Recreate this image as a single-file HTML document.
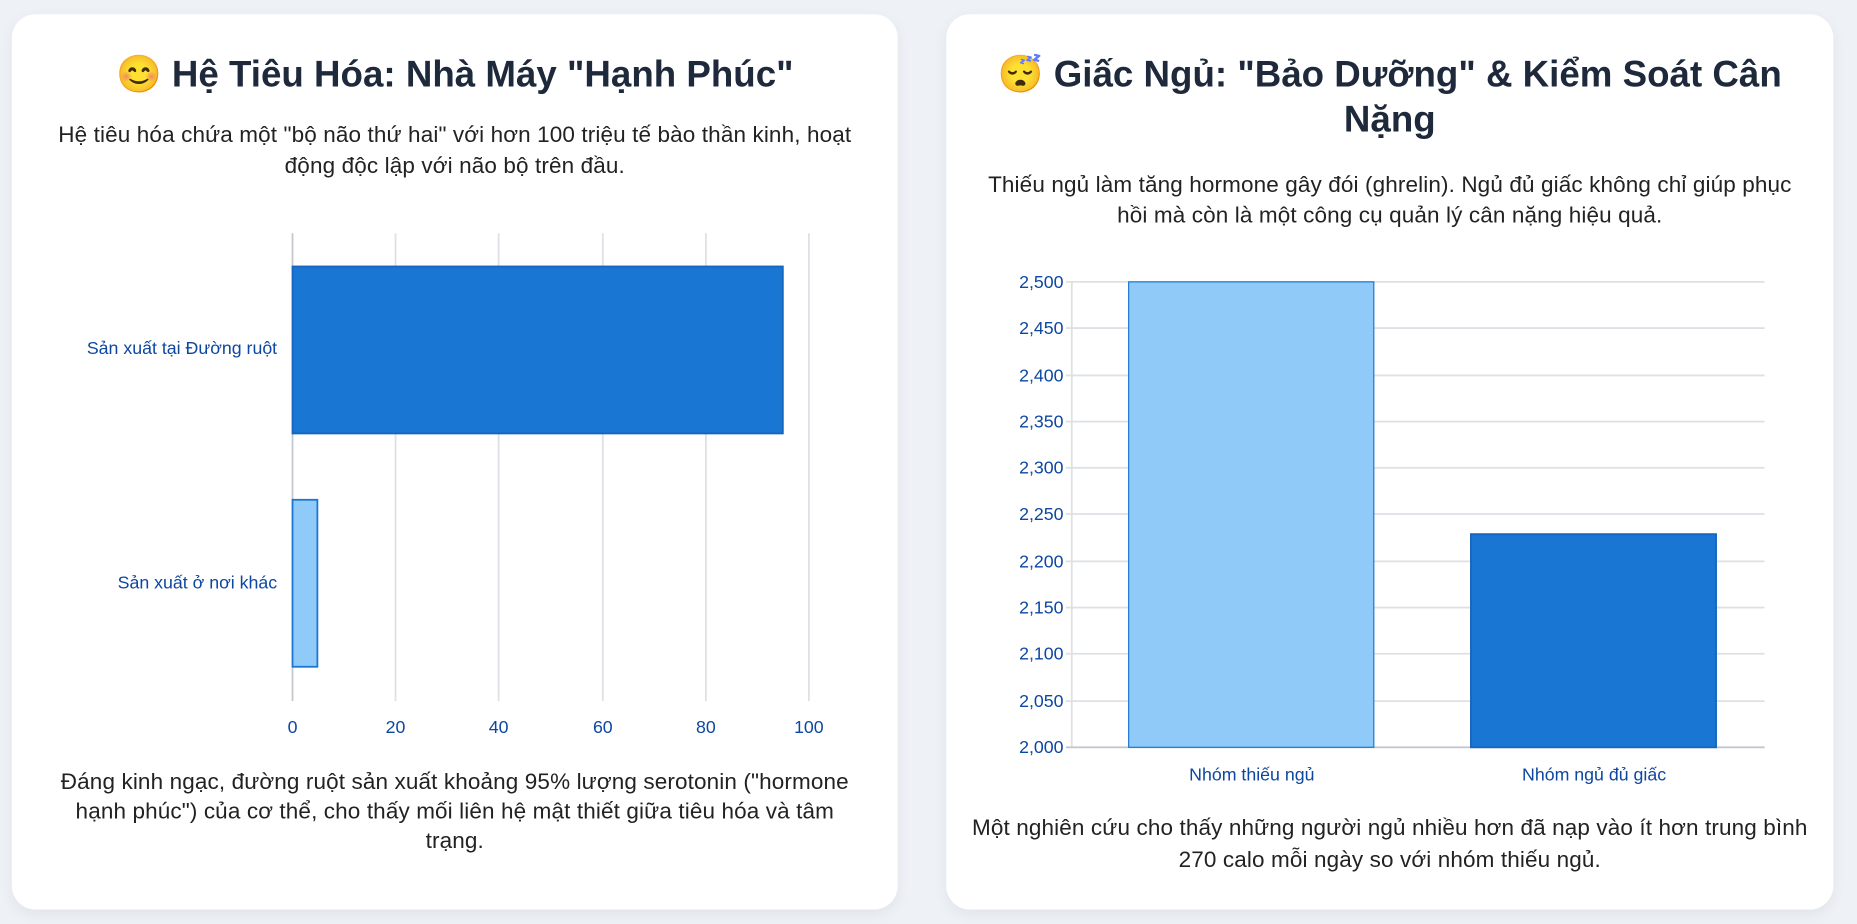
<!DOCTYPE html>
<html><head><meta charset="utf-8"><style>
html,body{margin:0;padding:0;width:1857px;height:924px;overflow:hidden;background:#eef2f7;}
#w{position:absolute;left:0;top:0;width:1568px;height:780px;transform:scale(1.18431);transform-origin:0 0;font-family:"Liberation Sans",sans-serif;}
.card{position:absolute;top:12px;height:756px;background:#fff;border-radius:20px;box-shadow:0 4px 12px rgba(0,0,0,0.06);}
.t{position:absolute;left:0;right:0;text-align:center;color:#1e293b;white-space:nowrap;}
h2{font-size:31px;font-weight:bold;margin:0;line-height:38px;}
.p{font-size:19px;letter-spacing:0.1px;line-height:26px;color:#222;}
svg text{font-family:"Liberation Sans",sans-serif;fill:#0d47a1;font-size:15px;}
</style></head><body><div id="w">
<div class="card" style="left:10px;width:748px"></div>
<div class="card" style="left:799px;width:749px"></div>

<div class="t" style="left:10px;width:748px;top:44px"><h2>😊 Hệ Tiêu Hóa: Nhà Máy "Hạnh Phúc"</h2></div>
<div class="t p" style="left:10px;width:748px;top:102px">Hệ tiêu hóa chứa một "bộ não thứ hai" với hơn 100 triệu tế bào thần kinh, hoạt<br>động độc lập với não bộ trên đầu.</div>
<div class="t p" style="left:10px;width:748px;top:648px;line-height:25px">Đáng kinh ngạc, đường ruột sản xuất khoảng 95% lượng serotonin ("hormone<br>hạnh phúc") của cơ thể, cho thấy mối liên hệ mật thiết giữa tiêu hóa và tâm<br>trạng.</div>

<div class="t" style="left:799px;width:749px;top:44px"><h2>😴 Giấc Ngủ: "Bảo Dưỡng" &amp; Kiểm Soát Cân<br>Nặng</h2></div>
<div class="t p" style="left:799px;width:749px;top:144px">Thiếu ngủ làm tăng hormone gây đói (ghrelin). Ngủ đủ giấc không chỉ giúp phục<br>hồi mà còn là một công cụ quản lý cân nặng hiệu quả.</div>
<div class="t p" style="left:799px;width:749px;top:686px;line-height:27px">Một nghiên cứu cho thấy những người ngủ nhiều hơn đã nạp vào ít hơn trung bình<br>270 calo mỗi ngày so với nhóm thiếu ngủ.</div>

<svg width="1568" height="780" style="position:absolute;left:0;top:0">
<g stroke="#dde1e6" stroke-width="1.5">
<line x1="334" y1="197" x2="334" y2="592"/><line x1="421" y1="197" x2="421" y2="592"/><line x1="509" y1="197" x2="509" y2="592"/><line x1="596" y1="197" x2="596" y2="592"/><line x1="683" y1="197" x2="683" y2="592"/>
</g>
<line x1="247" y1="197" x2="247" y2="592" stroke="#c4c8cc" stroke-width="1.5"/>
<rect x="247" y="225" width="414" height="141" fill="#1976d2" stroke="#1565c0" stroke-width="1.5"/>
<rect x="247" y="422" width="21" height="141" fill="#90caf9" stroke="#1976d2" stroke-width="1.5"/>
<text x="234" y="299" text-anchor="end">Sản xuất tại Đường ruột</text>
<text x="234" y="497" text-anchor="end">Sản xuất ở nơi khác</text>
<g text-anchor="middle"><text x="247" y="619">0</text><text x="334" y="619">20</text><text x="421" y="619">40</text><text x="509" y="619">60</text><text x="596" y="619">80</text><text x="683" y="619">100</text></g>

<g stroke="#dde1e6" stroke-width="1.5">
<line x1="900" y1="238" x2="1490" y2="238"/><line x1="900" y1="277" x2="1490" y2="277"/><line x1="900" y1="317" x2="1490" y2="317"/><line x1="900" y1="356" x2="1490" y2="356"/><line x1="900" y1="395" x2="1490" y2="395"/><line x1="900" y1="434" x2="1490" y2="434"/><line x1="900" y1="474" x2="1490" y2="474"/><line x1="900" y1="513" x2="1490" y2="513"/><line x1="900" y1="552" x2="1490" y2="552"/><line x1="900" y1="592" x2="1490" y2="592"/>
<line x1="905" y1="238" x2="905" y2="631"/>
</g>
<line x1="900" y1="631" x2="1490" y2="631" stroke="#c4c8cc" stroke-width="1.5"/>
<rect x="953" y="238" width="207" height="393" fill="#90caf9" stroke="#1976d2" stroke-width="1"/>
<rect x="1242" y="451" width="207" height="180" fill="#1976d2" stroke="#1565c0" stroke-width="1.5"/>
<g text-anchor="end">
<text x="898" y="243">2,500</text><text x="898" y="282">2,450</text><text x="898" y="322">2,400</text><text x="898" y="361">2,350</text><text x="898" y="400">2,300</text><text x="898" y="439">2,250</text><text x="898" y="479">2,200</text><text x="898" y="518">2,150</text><text x="898" y="557">2,100</text><text x="898" y="597">2,050</text><text x="898" y="636">2,000</text>
</g>
<text x="1057" y="659" text-anchor="middle">Nhóm thiếu ngủ</text>
<text x="1346" y="659" text-anchor="middle">Nhóm ngủ đủ giấc</text>
</svg>
</div></body></html>
